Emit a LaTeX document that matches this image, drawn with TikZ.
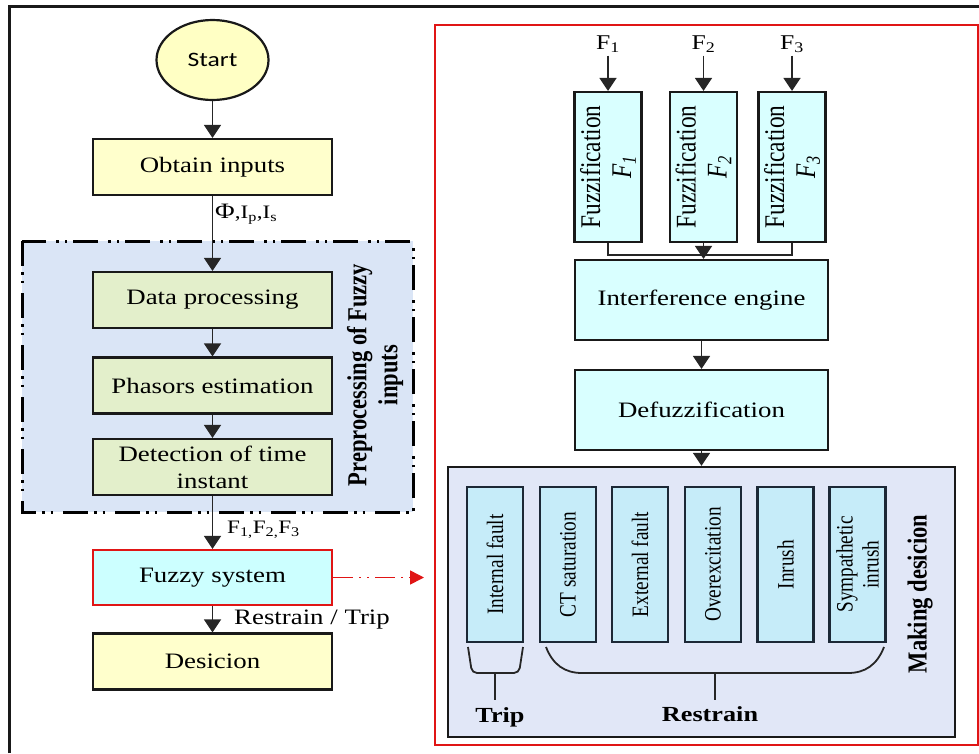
\documentclass[tikz,border=0pt]{standalone}
\usepackage{fontspec}
\setmainfont{Liberation Serif}
\newfontfamily\hser{Liberation Serif}[FakeStretch=1.22]
\newfontfamily\vser{Liberation Serif}[FakeStretch=0.82]
\newfontfamily\hsans{Carlito}[FakeStretch=1.25]
\usetikzlibrary{arrows.meta,shapes.geometric}
\definecolor{yfill}{HTML}{FFFFCC}
\definecolor{sfill}{HTML}{FFFFC4}
\definecolor{gfill}{HTML}{E3EFCB}
\definecolor{regfill}{HTML}{DAE5F6}
\definecolor{cfill}{HTML}{D9FFFF}
\definecolor{fzfill}{HTML}{CCFFFF}
\definecolor{mkfill}{HTML}{E1E7F7}
\definecolor{itfill}{HTML}{C6ECF9}
\definecolor{itdraw}{HTML}{1C2836}
\definecolor{myred}{HTML}{E01515}
\tikzset{
  hfont/.style={font=\hser\fontsize{22}{27}\selectfont},
  basebox/.style={draw=black!90, line width=2.2pt, rectangle, inner sep=0pt, hfont},
  ybox/.style={basebox, fill=yfill, minimum width=239pt, minimum height=56pt},
  gbox/.style={basebox, fill=gfill, minimum width=239pt, minimum height=56pt, align=center},
  fzsys/.style={basebox, draw=myred, fill=fzfill, minimum width=239pt, minimum height=55pt},
  fzbox/.style={basebox, fill=cfill, minimum width=67pt, minimum height=150pt},
  cbox/.style={basebox, fill=cfill, minimum width=253pt, minimum height=80pt},
  itembox/.style={draw=itdraw, line width=2.4pt, fill=itfill, rectangle, inner sep=0pt, minimum width=56pt, minimum height=155pt},
  vlab/.style={rotate=90, align=center, inner sep=0pt, font=\vser\fontsize{28.5}{31}\selectfont},
  vitem/.style={rotate=90, align=center, inner sep=0pt, font=\vser\fontsize{23.5}{26}\selectfont},
  vbold/.style={rotate=90, align=center, inner sep=0pt, font=\vser\bfseries\fontsize{27.5}{30}\selectfont},
  hbold/.style={inner sep=2pt, font=\hser\bfseries\fontsize{21.5}{24}\selectfont},
  lab/.style={inner sep=0pt, font=\hser\fontsize{19}{22}\selectfont},
  arr/.style={-{Triangle[width=17pt,length=13pt]}, line width=1.8pt, draw=black!85},
  plain/.style={line width=1.8pt, draw=black!85},
  region/.style={line width=3pt, dash pattern=on 25pt off 6pt on 2.5pt off 6pt on 2.5pt off 10pt},
}
\begin{document}
\begin{tikzpicture}[x=1pt, y=-1pt]
\useasboundingbox (0,0) rectangle (979,753);
% outer frame
\draw[line width=3pt, black!90] (9,753) -- (9,6) -- (979,6);
% preprocessing region
\fill[regfill] (22,241) rectangle (413,512);
\draw[region] (22,241) rectangle (413,512);
\node[vbold, font=\vser\bfseries\fontsize{27.5}{31}\selectfont] (pre) at (375,375) {Preprocessing of Fuzzy\\inputs};

% left flow
\node[ellipse, draw=black!90, line width=2.2pt, fill=sfill, minimum width=112pt, minimum height=80pt, inner sep=0pt, font=\hsans\fontsize{20.5}{24}\selectfont] (start) at (212.5,60) {Start};
\node[ybox] (obt) at (212.5,167) {Obtain inputs};
\node[gbox] (dp) at (212.5,300) {Data processing};
\node[gbox] (ph) at (212.5,385.5) {Phasors estimation};
\node[gbox] (det) at (212.5,467) {Detection of time\\instant};
\node[fzsys] (fz) at (212.5,577.5) {Fuzzy system};
\node[ybox] (dec) at (212.5,661.5) {Desicion};

\draw[arr] (start) -- (obt);
\draw[arr] (obt) -- (dp);
\draw[arr] (dp) -- (ph);
\draw[arr] (ph) -- (det);
\draw[arr] (det) -- (fz);
\draw[arr] (fz) -- (dec);

\node[lab, anchor=west] (phil) at (215,214) {{\fontsize{22}{22}\selectfont Φ},I\textsubscript{p},I\textsubscript{s}};
\node[lab, anchor=west] (fl) at (227,530) {F\textsubscript{1,}F\textsubscript{2,}F\textsubscript{3}};
\node[hfont, inner sep=0pt, anchor=west] (rtl) at (234,620) {Restrain / Trip};

\coordinate (rtip) at (424,577.5);
\draw[myred, line width=1.6pt, dash pattern=on 20pt off 6pt on 2pt off 6pt on 2pt off 6pt, -{Triangle[width=14pt,length=14pt]}] (fz.east) -- (rtip);

% right frame
\draw[myred, line width=2.5pt] (435,25) rectangle (978,745);

% inputs
\node[lab, font=\hser\fontsize{21}{24}\selectfont, inner sep=1pt] (f1) at (608,44) {F\textsubscript{1}};
\node[lab, font=\hser\fontsize{21}{24}\selectfont, inner sep=1pt] (f2) at (703.5,44) {F\textsubscript{2}};
\node[lab, font=\hser\fontsize{21}{24}\selectfont, inner sep=1pt] (f3) at (792,44) {F\textsubscript{3}};

\node[fzbox] (fz1) at (608,167) {};
\node[fzbox] (fz2) at (703.5,167) {};
\node[fzbox] (fz3) at (792,167) {};
\node[vlab] at (fz1) {Fuzzification\\\textit{F}\textsubscript{\textit{1}}};
\node[vlab] at (fz2) {Fuzzification\\\textit{F}\textsubscript{\textit{2}}};
\node[vlab] at (fz3) {Fuzzification\\\textit{F}\textsubscript{\textit{3}}};

\draw[arr] (f1.south) ++(0,2) -- (fz1.north);
\draw[arr] (f2.south) ++(0,2) -- (fz2.north);
\draw[arr] (f3.south) ++(0,2) -- (fz3.north);

\node[cbox] (ie) at (701.5,300) {Interference engine};
\node[cbox] (df) at (701.5,410) {Defuzzification};

\coordinate (j) at (703.5,255);
\draw[plain] (fz1.south) |- (j) -| (fz3.south);
\draw[arr] (fz2.south) -- (fz2.south |- ie.north);
\draw[arr] (ie) -- (df);

% making decision
\node[draw=black!90, line width=2.4pt, fill=mkfill, rectangle, minimum width=507pt, minimum height=270pt, inner sep=0pt] (mk) at (701.5,602) {};
\draw[arr] (df) -- (mk);
\node[itembox] (i1) at (495,564.5) {};
\node[itembox] (i2) at (568,564.5) {};
\node[itembox] (i3) at (640,564.5) {};
\node[itembox] (i4) at (713,564.5) {};
\node[itembox] (i5) at (785.5,564.5) {};
\node[itembox] (i6) at (857.5,564.5) {};
\node[vitem] at (i1) {Internal fault};
\node[vitem] at (i2) {CT saturation};
\node[vitem] at (i3) {External fault};
\node[vitem] at (i4) {Overexcitation};
\node[vitem] at (i5) {Inrush};
\node[vitem] at (i6) {Sympathetic\\inrush};
\node[vbold] (mkl) at (920,594) {Making desicion};

% brackets
\draw[plain, rounded corners=5pt] (468,647) -- (472,673) -- (519,673) -- (523,647);
\draw[plain] (546,647) .. controls (553,665) and (565,673) .. (582,673) -- (848,673) .. controls (865,673) and (877,665) .. (884,647);
\node[hbold] (trip) at (500,717) {Trip};
\node[hbold] (restr) at (710,714) {Restrain};
\coordinate (tb) at (495,673);
\coordinate (rb) at (715,673);
\draw[plain] (tb) -- (tb |- 0,700);
\draw[plain] (rb) -- (rb |- 0,700);
\end{tikzpicture}
\end{document}
